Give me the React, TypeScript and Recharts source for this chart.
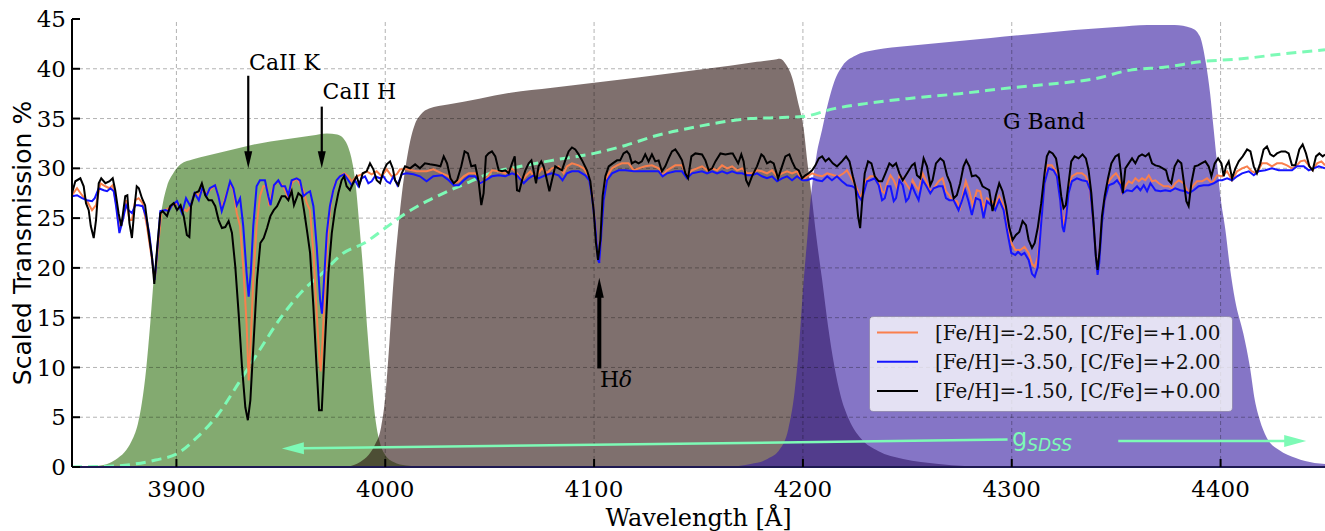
import { ComposedChart, Area, Line, XAxis, YAxis, ReferenceLine, ReferenceDot, Legend } from 'recharts'

type Pt = [number, number]

const X_TICKS = [3900, 4000, 4100, 4200, 4300, 4400]
const Y_TICKS = [0, 5, 10, 15, 20, 25, 30, 35, 40, 45]

const SERIF = '"DejaVu Serif", serif'
const SANS = '"DejaVu Sans", sans-serif'
const MINT = '#7dfab6'

// filter transmission curves
const FILTER_GREEN: Pt[] = [
  [3855, 0], [3862, 0.1], [3868, 0.4], [3872, 0.9], [3876, 1.7], [3879, 2.8], [3881.5, 4.3], [3883.5, 6.5],
  [3885.5, 9.8], [3887.5, 14.5], [3889.5, 19.8], [3891.5, 23.8], [3893.5, 26.5], [3895.5, 28.2], [3898.5, 29.5],
  [3902, 30.4], [3908, 30.9], [3915, 31.3], [3925, 31.8], [3935, 32.3], [3945, 32.7], [3955, 33.0],
  [3965, 33.3], [3972, 33.5], [3977, 33.4], [3980, 33.0], [3982.5, 32.0], [3984.5, 30.3], [3986, 28],
  [3987.5, 24.5], [3989.5, 19.5], [3991.5, 13.5], [3993.5, 8.5], [3995.5, 4.5], [3997.5, 2.4],
  [4000, 1.2], [4004, 0.5], [4010, 0.15], [4020, 0],
]

const FILTER_BROWN: Pt[] = [
  [3982, 0], [3988, 0.5], [3992, 1.2], [3995, 2.2], [3998, 4], [4000, 7], [4002, 12.5], [4004, 18.8],
  [4006, 23.5], [4008, 27.5], [4010, 30.5], [4012, 32.8], [4014, 34.3], [4017, 35.4], [4021, 36.0],
  [4030, 36.4], [4045, 37.0], [4060, 37.6], [4080, 38.1], [4100, 38.6], [4120, 39.1], [4150, 39.9],
  [4165, 40.3], [4178, 40.7], [4186, 40.9], [4189, 41.0], [4192, 40.4], [4195, 39], [4197.5, 36.8],
  [4200.4, 33.9], [4202.2, 30.5], [4204, 27.5], [4206.5, 23], [4209.2, 18.8], [4212, 14.2],
  [4215, 10.2], [4218, 7.2], [4222, 4.8], [4228, 2.8], [4236, 1.6], [4248, 0.8], [4265, 0.3], [4290, 0],
]

const FILTER_PURPLE: Pt[] = [
  [4165, 0], [4175, 0.3], [4183, 0.8], [4189, 1.8], [4193, 3.8], [4196, 7.5], [4198.3, 12.5],
  [4200.4, 18.8], [4202.2, 23.2], [4204, 27.5], [4206.5, 31.3], [4209.2, 33.9], [4212, 36.5],
  [4215, 38.7], [4219, 40.3], [4225, 41.3], [4235, 41.9], [4250, 42.3], [4270, 42.7], [4290, 43.1],
  [4310, 43.5], [4330, 43.9], [4350, 44.2], [4365, 44.4], [4378, 44.4], [4386, 44.1], [4390, 43.3],
  [4393, 40.5], [4395, 37.5], [4396.7, 33.9], [4398.3, 30.5], [4399.9, 27.2], [4402.3, 23.8],
  [4404.5, 20], [4406.9, 16.8], [4410.9, 13.4], [4414, 10.1], [4416.4, 6.7], [4418.8, 4.7],
  [4422, 3.0], [4428, 1.7], [4436, 0.9], [4445, 0.4], [4450, 0.3],
]

// g_SDSS response (dashed)
const G_SDSS: Pt[] = [
  [3850, 0], [3870, 0.1], [3880, 0.3], [3890, 0.7], [3900, 1.3], [3910, 3.0], [3920, 5.3], [3930, 8.5],
  [3940, 11.8], [3950, 15.0], [3960, 17.6], [3970, 19.5], [3980, 21.5], [3990, 22.5], [4000, 24.0],
  [4010, 25.5], [4020, 26.7], [4030, 27.7], [4040, 28.6], [4050, 29.5], [4065, 30.2], [4080, 30.8],
  [4100, 31.5], [4115, 32.3], [4130, 33.3], [4145, 34.0], [4160, 34.6], [4175, 35.0], [4190, 35.1],
  [4200, 35.2], [4215, 36.0], [4230, 36.5], [4250, 37.0], [4275, 37.5], [4300, 38.1], [4325, 38.6],
  [4340, 39.0], [4355, 39.8], [4375, 40.2], [4390, 40.7], [4410, 41.0], [4430, 41.5], [4450, 41.9],
]

// [Fe/H]=-2.50, [C/Fe]=+1.00
const SPEC_ORANGE: Pt[] = [
  [3850, 27.3], [3852.4, 28.0], [3854.8, 27.3], [3857.2, 26.7], [3859.6, 25.8], [3861.5, 26.3],
  [3863.6, 28.5], [3866, 28.2], [3867.9, 28.0], [3869.5, 28.3], [3871.1, 26.5], [3872.7, 23.8],
  [3874.3, 24.8], [3875.9, 26.8], [3877.5, 24.8], [3878.7, 24.8], [3880.3, 26.8], [3881.9, 27.0],
  [3883.8, 26.5], [3885.9, 24.2], [3888.3, 20.8], [3889.6, 18.8], [3891.2, 22.1], [3892.8, 25.7],
  [3894.7, 25.8], [3897.9, 26.2], [3900.3, 26.5], [3902.7, 26.0], [3905, 25.7], [3906.7, 26.2],
  [3908.7, 27.5], [3910.7, 27.3], [3912.2, 27.8], [3914.5, 27.5], [3918.5, 28.3], [3921.7, 26.0],
  [3924, 27.5], [3925.7, 28.5], [3927.3, 27.8], [3928.9, 25.5], [3930.5, 24.2], [3932, 20.1],
  [3933.6, 14.4], [3934.6, 8.7], [3935.6, 12.7], [3936.8, 18.8], [3938.4, 24.2], [3940, 27.2],
  [3941.6, 28.2], [3943.2, 28.2], [3944.5, 26.2], [3946.4, 28.2], [3948.8, 28.7], [3951.2, 28.2],
  [3953.6, 27.0], [3955.2, 28.5], [3957.6, 29.0], [3960.8, 27.8], [3962.4, 26.5], [3964, 25.8],
  [3965.6, 21.5], [3967.2, 15.4], [3968.5, 10.7], [3969.1, 9.6], [3970, 12.7], [3971.2, 18.8],
  [3972.8, 24.2], [3974.4, 27.2], [3976, 28.5], [3978.3, 29.2], [3980.3, 29.5], [3982.3, 29.2],
  [3983.9, 28.7], [3986.3, 29.2], [3988.7, 29.4], [3991.1, 29.7], [3993.5, 29.4], [3995.9, 29.7],
  [3998.3, 29.2], [4000.7, 29.9], [4003.1, 29.2], [4005.5, 29.4], [4007.1, 29.9], [4010.3, 29.9],
  [4015, 29.7], [4019.8, 29.7], [4023, 29.9], [4027.2, 29.5], [4030.4, 29.2], [4032.8, 28.5],
  [4035.2, 28.7], [4037.6, 29.2], [4040, 29.5], [4043.1, 29.5], [4045.5, 28.5], [4047.9, 28.8],
  [4051.1, 29.8], [4054.3, 29.7], [4057.5, 29.5], [4060.7, 30.0], [4063.1, 29.5], [4065.5, 28.8],
  [4067.1, 29.2], [4069.5, 29.7], [4071, 29.2], [4072.6, 29.3], [4075, 30.0], [4077.4, 29.5],
  [4079.8, 30.0], [4083, 30.2], [4085.4, 29.5], [4087, 30.2], [4089.4, 30.5], [4092.6, 30.3],
  [4095, 30.0], [4097.4, 29.2], [4099, 27.5], [4100.6, 24.1], [4101.9, 21.0], [4102.5, 20.6],
  [4103.5, 23.8], [4104.6, 27.2], [4106.2, 29.2], [4108.6, 30.0], [4111, 30.3], [4113.3, 30.5],
  [4116.5, 30.5], [4119, 29.8], [4121.3, 30.0], [4124.5, 30.2], [4127.7, 30.3], [4130.9, 30.0],
  [4132.8, 29.3], [4134.9, 29.8], [4138.9, 30.3], [4142.1, 30.3], [4144.5, 29.2], [4146.9, 29.8],
  [4151.7, 30.2], [4154.1, 29.8], [4156.5, 30.0], [4158.9, 29.8], [4161.3, 30.3], [4163.7, 30.0],
  [4166.1, 30.2], [4168.5, 29.8], [4170.9, 30.0], [4173.2, 29.5], [4175.6, 29.5], [4178, 29.8],
  [4180.4, 29.7], [4182.8, 29.5], [4185.2, 29.8], [4187.6, 29.2], [4190, 29.5], [4192.4, 29.7],
  [4194.8, 29.5], [4197.2, 29.7], [4199.6, 28.8], [4202, 29.2], [4204.4, 29.5], [4206.8, 29.3],
  [4209.2, 29.2], [4211.6, 29.5], [4214.8, 29.3], [4217.1, 29.2], [4219.5, 29.5], [4221.1, 29.8],
  [4222.7, 29.2], [4225.1, 28.3], [4226.4, 27.7], [4227.5, 27.0], [4228.6, 27.7], [4230.2, 28.8],
  [4232.3, 29.2], [4234.4, 29.2], [4236.3, 28.7], [4237.9, 27.7], [4239.2, 27.5], [4240.3, 28.5],
  [4241.9, 29.3], [4243.5, 28.8], [4245.1, 28.0], [4246.2, 29.3], [4247.8, 29.0], [4249.9, 28.3],
  [4251.5, 27.8], [4252.5, 28.8], [4253.8, 28.3], [4255.4, 27.8], [4257.3, 29.5], [4258.9, 28.8],
  [4261, 27.7], [4262.6, 28.0], [4265, 28.7], [4266.9, 29.0], [4268.5, 27.7], [4270.1, 27.3],
  [4271.4, 26.8], [4273.7, 26.7], [4275.3, 26.0], [4276.9, 27.7], [4278, 28.7], [4279.7, 27.7],
  [4281.3, 26.3], [4283.3, 27.8], [4284.9, 27.7], [4286.5, 26.0], [4288.1, 27.0], [4290.5, 26.7],
  [4292.1, 26.3], [4294, 27.2], [4296.1, 26.2], [4297.7, 24.1], [4299.8, 22.5], [4301.7, 21.8],
  [4304.1, 21.8], [4306.1, 22.1], [4308.1, 21.5], [4309.7, 20.4], [4311, 20.1], [4312.5, 21.1],
  [4314.1, 24.8], [4315.7, 28.5], [4317.3, 30.3], [4319.2, 30.3], [4321.2, 29.7], [4322.8, 27.8],
  [4324, 25.5], [4325, 24.3], [4326.1, 25.8], [4327.2, 28.2], [4328.8, 29.2], [4331.2, 29.5],
  [4333.6, 29.5], [4335.5, 29.2], [4337.1, 28.3], [4338.4, 25.8], [4339.7, 22.8], [4341, 19.8],
  [4341.9, 21.1], [4343.2, 24.8], [4344.5, 26.7], [4346.4, 28.7], [4348.3, 29.2], [4349.9, 29.5],
  [4351.5, 29.0], [4352.8, 27.6], [4354.4, 28.2], [4356, 28.7], [4357.6, 28.5], [4359.2, 29.0],
  [4360.8, 28.7], [4362.4, 29.0], [4364, 28.8], [4365.6, 29.3], [4367.2, 28.7], [4368.8, 28.8],
  [4370.4, 28.5], [4372.8, 28.2], [4375.1, 28.2], [4376.7, 28.0], [4378.3, 28.5], [4380, 28.8],
  [4382.3, 28.5], [4384.7, 27.5], [4386.6, 28.2], [4388.7, 28.7], [4391.1, 28.7], [4393.5, 29.0],
  [4395.9, 28.5], [4398.3, 29.3], [4400.7, 29.2], [4403.1, 29.7], [4405.5, 28.8], [4407.9, 29.7],
  [4410.3, 30.0], [4412.7, 30.2], [4415, 29.7], [4417.4, 29.5], [4419.8, 30.5], [4422.2, 30.5],
  [4424.6, 30.2], [4427, 30.5], [4429.4, 30.5], [4431.8, 30.3], [4434.2, 30.0], [4436.1, 30.2],
  [4438.2, 30.7], [4440.3, 30.8], [4442.2, 30.3], [4444.1, 29.8], [4446.2, 30.5], [4448.3, 30.7],
  [4450, 30.3],
]

// [Fe/H]=-3.50, [C/Fe]=+2.00
const SPEC_BLUE: Pt[] = [
  [3850, 27.2], [3852.4, 27.3], [3854.8, 27.0], [3857.2, 26.8], [3859.6, 26.7], [3860.9, 27.0],
  [3862.8, 28.0], [3865.2, 27.8], [3866.8, 27.7], [3868.4, 28.0], [3870, 27.7], [3871.1, 26.2],
  [3872.7, 23.5], [3874.3, 24.8], [3875.9, 26.3], [3877.1, 25.8], [3878.7, 25.5], [3880.3, 26.3],
  [3881.9, 26.3], [3883.8, 26.2], [3885.4, 25.2], [3887, 23.5], [3888.6, 20.5], [3889.6, 18.8],
  [3890.7, 21.5], [3892.3, 25.7], [3894.7, 25.8], [3896.3, 25.7], [3897.9, 26.3], [3900.3, 26.7],
  [3902.7, 25.5], [3904.6, 27.0], [3906.7, 26.2], [3908.7, 27.5], [3910.7, 26.8], [3912.5, 28.1],
  [3914.3, 27.2], [3916, 28.0], [3918.5, 28.3], [3920.1, 27.2], [3921.7, 25.7], [3923.3, 26.8],
  [3925.7, 28.7], [3927.3, 28.0], [3928.9, 26.3], [3930.5, 27.0], [3932, 24.2], [3933.6, 19.5],
  [3934.6, 17.1], [3935.6, 19.5], [3936.8, 24.2], [3938.4, 28.2], [3940, 28.8], [3942.4, 28.8],
  [3944, 27.2], [3945.1, 26.3], [3946.7, 28.3], [3948.8, 28.8], [3950.4, 28.2], [3952, 28.2],
  [3953.6, 27.3], [3955.2, 28.8], [3957.6, 29.0], [3959.2, 28.8], [3960.8, 27.2], [3962.4, 27.5],
  [3964, 27.7], [3965.6, 26.2], [3967.2, 22.1], [3968.8, 16.8], [3969.7, 15.4], [3970.7, 18.8],
  [3972, 23.5], [3973.5, 26.2], [3975.1, 27.8], [3976.7, 28.8], [3978.3, 29.2], [3980.3, 29.4],
  [3982.3, 28.8], [3983.9, 28.3], [3985.5, 28.8], [3987.1, 28.2], [3988.7, 29.0], [3990.3, 29.2],
  [3991.9, 28.5], [3993.5, 28.7], [3995.1, 29.2], [3997.5, 29.0], [3999.1, 29.2], [4000.7, 28.7],
  [4002.3, 28.5], [4003.9, 29.2], [4005.8, 28.3], [4007.9, 29.4], [4010.3, 29.5], [4013.5, 29.4],
  [4016.6, 29.2], [4019.8, 28.7], [4023, 29.2], [4027.2, 29.3], [4030.4, 28.8], [4032.8, 28.3],
  [4035.2, 28.3], [4037.6, 28.8], [4040, 29.2], [4043.1, 29.2], [4045.5, 28.5], [4047.9, 28.8],
  [4051.1, 29.2], [4054.3, 29.3], [4057.5, 29.2], [4060.7, 29.5], [4063.1, 29.3], [4066.3, 28.5],
  [4068.7, 29.0], [4071, 29.3], [4073.4, 29.0], [4076.6, 29.3], [4079.8, 29.5], [4083, 29.3],
  [4084.9, 28.8], [4087, 29.5], [4089.4, 29.7], [4092.6, 29.7], [4095.8, 29.3], [4097.7, 28.8],
  [4099, 27.2], [4100.6, 24.1], [4101.9, 20.8], [4102.5, 20.5], [4103.5, 23.5], [4104.6, 26.8],
  [4106.2, 28.8], [4108.6, 29.5], [4111.8, 29.8], [4115, 29.8], [4119, 29.7], [4121.3, 29.7],
  [4124.5, 29.7], [4127.7, 29.7], [4130.9, 29.7], [4132.8, 29.2], [4134.9, 29.5], [4138.9, 29.7],
  [4142.1, 29.7], [4144.5, 29.0], [4146.9, 29.5], [4151.7, 29.7], [4154.1, 29.5], [4156.5, 29.7],
  [4158.9, 29.5], [4161.3, 29.7], [4163.7, 29.5], [4166.1, 29.7], [4168.5, 29.5], [4170.9, 29.5],
  [4173.2, 29.3], [4175.6, 29.3], [4178, 29.5], [4180.4, 29.2], [4182.8, 29.0], [4185.2, 29.2],
  [4187.6, 28.7], [4190, 29.0], [4192.4, 29.2], [4194.8, 28.8], [4197.2, 29.2], [4199.6, 28.8],
  [4202, 28.8], [4204.4, 29.0], [4206.8, 28.8], [4209.2, 28.7], [4211.6, 29.2], [4213.9, 28.8],
  [4216.3, 29.2], [4218.7, 28.7], [4221.1, 28.3], [4223.5, 28.2], [4225.1, 28.0], [4226.7, 27.2],
  [4228, 26.8], [4229.1, 27.5], [4230.7, 28.7], [4232.3, 28.8], [4234.4, 29.0], [4236.3, 28.3],
  [4237.9, 26.8], [4239.2, 27.0], [4240.6, 28.2], [4241.9, 28.2], [4243.5, 26.7], [4244.6, 27.0],
  [4246.2, 28.8], [4247.8, 28.3], [4249.4, 26.7], [4250.6, 27.0], [4252.2, 28.3], [4253.8, 27.5],
  [4255.4, 26.8], [4257.3, 28.8], [4258.9, 28.3], [4261, 27.5], [4262.6, 28.0], [4265, 28.2],
  [4266.9, 28.2], [4268.5, 27.0], [4270.1, 26.8], [4272.2, 26.8], [4274.5, 25.8], [4276.1, 26.7],
  [4277.7, 27.8], [4279.3, 26.7], [4280.9, 25.3], [4282.8, 27.0], [4284.9, 26.8], [4286.5, 25.0],
  [4288.1, 26.7], [4290.5, 26.2], [4292.1, 25.8], [4294, 26.8], [4296.1, 25.8], [4297.7, 23.8],
  [4299.8, 21.5], [4301.7, 21.3], [4303, 21.6], [4304.6, 21.3], [4306.1, 21.5], [4308.1, 20.8],
  [4309.7, 19.4], [4311, 19.1], [4312.5, 20.1], [4314.1, 24.5], [4315.7, 28.5], [4317.6, 30.0],
  [4320, 29.8], [4321.6, 29.2], [4323.2, 26.8], [4324.3, 24.1], [4325, 23.6], [4326.1, 25.2],
  [4327.2, 27.5], [4328.8, 28.7], [4331.2, 29.0], [4333.6, 28.8], [4336, 28.7], [4337.6, 27.8],
  [4339.2, 24.1], [4340.3, 21.1], [4341.1, 19.3], [4341.9, 20.5], [4343.2, 24.5], [4344.5, 26.8],
  [4346.4, 28.3], [4348.8, 28.5], [4350.4, 28.8], [4352, 28.3], [4353.2, 27.5], [4355.2, 27.8],
  [4357.6, 27.7], [4360, 28.2], [4361.6, 27.8], [4363.2, 28.3], [4364.8, 27.7], [4366.4, 28.5],
  [4368.8, 27.8], [4371.2, 27.7], [4373.5, 27.8], [4375.9, 27.7], [4378.3, 28.0], [4380.7, 27.8],
  [4383.1, 27.7], [4384.7, 27.5], [4387.1, 27.8], [4389.5, 28.2], [4391.9, 28.3], [4394.3, 28.3],
  [4396.7, 28.5], [4399.1, 28.8], [4400.7, 28.8], [4403.1, 29.0], [4405.5, 28.8], [4407.9, 29.2],
  [4410.3, 29.5], [4413.5, 29.7], [4415.9, 29.3], [4418.2, 29.7], [4421.4, 29.8], [4424.6, 30.0],
  [4427.8, 29.8], [4431, 29.8], [4434.2, 29.8], [4436.6, 30.2], [4439.8, 30.2], [4442.2, 29.8],
  [4444.6, 30.0], [4447, 30.2], [4450, 30.0],
]

// [Fe/H]=-1.50, [C/Fe]=+0.00
const SPEC_BLACK: Pt[] = [
  [3850, 27.5], [3851.6, 28.7], [3854, 29.0], [3855.6, 28.2], [3856.7, 26.5], [3858, 25.8],
  [3859, 24.2], [3860.4, 23.0], [3861.5, 24.8], [3862.8, 28.5], [3864, 29.0], [3866, 28.5],
  [3868, 28.7], [3869.5, 29.0], [3870.7, 27.8], [3872.3, 25.5], [3873.6, 24.2], [3875.5, 27.2],
  [3876.5, 27.3], [3877.5, 24.5], [3878.7, 23.0], [3880, 26.2], [3881, 28.2], [3882, 28.0],
  [3883.5, 27.0], [3885, 26.3], [3886.7, 23.5], [3888.3, 21.1], [3889.4, 18.4], [3890.7, 21.8],
  [3892.3, 25.5], [3893.4, 25.7], [3895.5, 25.2], [3897, 26.2], [3898.7, 26.5], [3900.3, 25.8],
  [3902, 26.3], [3903.5, 25.2], [3905, 23.3], [3906.2, 23.1], [3907, 26.2], [3908.7, 27.5],
  [3910.7, 27.7], [3912.2, 28.5], [3913.8, 27.3], [3915.4, 26.8], [3917, 26.8], [3918.6, 26.2],
  [3920.2, 24.8], [3921.8, 24.0], [3923.4, 24.1], [3925, 24.7], [3926.6, 23.5], [3928.2, 20.1],
  [3929.8, 15.4], [3931.4, 10.1], [3933, 6.0], [3934.2, 4.7], [3935.4, 6.7], [3937, 12.7],
  [3938.6, 18.8], [3940.2, 22.5], [3941.8, 23.0], [3943.4, 24.0], [3945, 25.2], [3946.6, 25.8],
  [3948.2, 26.2], [3950.4, 27.2], [3952, 27.2], [3953.6, 26.8], [3955.2, 27.7], [3956.3, 26.3],
  [3958.4, 27.5], [3960, 27.2], [3961.1, 25.8], [3962.7, 23.5], [3964, 21.5], [3965.6, 16.1],
  [3967.2, 9.7], [3968.3, 5.7], [3969.6, 5.7], [3971.2, 12.7], [3972.8, 19.5], [3974.4, 23.5],
  [3975.9, 25.8], [3977.5, 27.5], [3979.1, 28.8], [3980.3, 29.2], [3981.5, 28.2], [3983.1, 27.8],
  [3985, 28.7], [3986.3, 29.2], [3987.6, 28.3], [3989.2, 29.5], [3991.1, 29.7], [3992.7, 30.5],
  [3994.3, 29.9], [3995.9, 28.8], [3997.5, 28.5], [3999.1, 29.7], [4000.7, 30.4], [4002.3, 30.7],
  [4003.6, 30.0], [4004.7, 28.8], [4006.3, 28.3], [4007.9, 29.5], [4009.5, 30.2], [4011.9, 30.0],
  [4014.3, 30.4], [4016.6, 30.0], [4019, 30.5], [4021.4, 30.4], [4024.3, 30.3], [4026.4, 30.2],
  [4028, 31.2], [4029.6, 30.5], [4031.2, 29.0], [4032.8, 28.5], [4034.4, 28.8], [4036.4, 30.2],
  [4038, 31.7], [4039.6, 31.5], [4041.2, 30.2], [4043.1, 30.3], [4044.7, 28.7], [4046, 26.3],
  [4047.1, 27.5], [4048.2, 31.2], [4049.5, 31.5], [4051.1, 31.7], [4052.7, 31.2], [4054.3, 29.8],
  [4055.9, 29.7], [4057.5, 29.8], [4059.1, 29.5], [4060.7, 30.5], [4062, 31.2], [4063.1, 27.8],
  [4064.2, 27.7], [4065.5, 28.8], [4067.1, 29.8], [4068.7, 30.5], [4070, 30.8], [4071, 29.8],
  [4072.2, 28.5], [4073.4, 30.2], [4074.7, 30.7], [4075.8, 30.2], [4077, 29.2], [4078.6, 27.7],
  [4079.8, 28.8], [4081.4, 30.2], [4083, 30.0], [4084.6, 29.8], [4086.2, 30.8], [4087.8, 31.7],
  [4089.4, 32.1], [4091, 31.9], [4092.6, 31.4], [4094.5, 30.7], [4096.6, 29.8], [4098.2, 28.7],
  [4099.8, 25.8], [4100.9, 22.5], [4101.9, 20.8], [4103, 22.8], [4104.1, 27.2], [4105.4, 29.2],
  [4107, 30.2], [4108.9, 30.5], [4111, 30.8], [4112.5, 30.8], [4114.1, 31.5], [4115.7, 31.7],
  [4116.9, 31.4], [4118.1, 30.5], [4119.7, 30.7], [4121.3, 30.5], [4122.9, 30.7], [4124.5, 31.4],
  [4126.1, 30.7], [4127.7, 31.4], [4129.3, 30.7], [4130.9, 30.8], [4132.5, 29.7], [4134.1, 30.2],
  [4135.7, 31.0], [4137.3, 31.7], [4138.9, 31.9], [4140.5, 31.4], [4142.1, 30.8], [4143.7, 29.5],
  [4145, 29.0], [4146.6, 31.2], [4148.5, 31.5], [4151.7, 31.4], [4153.3, 30.8], [4154.9, 29.8],
  [4156.5, 30.0], [4158.1, 30.7], [4160.5, 31.5], [4162.9, 31.4], [4165.3, 31.5], [4166.4, 31.5],
  [4167.7, 31.0], [4169, 30.5], [4170.5, 31.4], [4171.6, 30.7], [4172.8, 28.8], [4174, 28.3],
  [4175.6, 29.2], [4178, 30.2], [4180.1, 31.4], [4181.2, 31.2], [4182.8, 30.5], [4184.4, 30.7],
  [4186, 30.5], [4188.1, 29.0], [4190, 30.2], [4191.6, 31.2], [4193.5, 31.4], [4194.8, 30.7],
  [4196.4, 30.0], [4198, 29.8], [4199.6, 29.0], [4201.2, 29.3], [4202.8, 29.5], [4204.4, 29.8],
  [4206, 30.3], [4207.6, 31.0], [4209.2, 31.2], [4210.8, 30.7], [4212.4, 31.0], [4214.3, 30.5],
  [4216.3, 30.2], [4218.7, 30.7], [4220.7, 31.2], [4222.3, 30.7], [4223.9, 29.2], [4225.1, 28.2],
  [4226.4, 25.2], [4227.4, 24.0], [4228.3, 26.5], [4229.6, 29.5], [4231.2, 30.7], [4232.8, 30.5],
  [4234.4, 29.2], [4236.3, 28.7], [4237.9, 28.7], [4239.5, 29.5], [4241.4, 30.5], [4243, 30.2],
  [4244.6, 30.5], [4246.2, 29.5], [4247.8, 28.8], [4249.9, 29.5], [4252.2, 30.3], [4253.5, 30.5],
  [4254.6, 29.3], [4256.2, 29.0], [4257.8, 31.0], [4259.4, 30.2], [4261, 28.3], [4262.1, 28.8],
  [4263.7, 30.5], [4265.8, 31.0], [4267.4, 30.7], [4269, 29.3], [4270.6, 28.5], [4272.2, 27.0],
  [4273.7, 27.3], [4275.3, 28.5], [4276.9, 30.2], [4278.2, 30.8], [4279.7, 30.2], [4280.9, 29.2],
  [4282.8, 29.3], [4284.4, 29.0], [4286, 28.2], [4287.6, 28.0], [4289.2, 27.8], [4290.8, 25.7],
  [4292.4, 27.3], [4294, 28.5], [4295.6, 27.7], [4297.2, 26.2], [4298.8, 24.1], [4300.4, 22.8],
  [4302, 23.3], [4303.6, 23.6], [4305.2, 24.7], [4306.8, 24.3], [4308.1, 22.8], [4309.7, 22.0],
  [4311, 22.5], [4312.5, 24.1], [4314.1, 26.5], [4315.7, 29.5], [4316.8, 31.2], [4318, 31.7],
  [4319.6, 31.5], [4321.2, 31.0], [4322.4, 29.5], [4323.7, 27.2], [4324.8, 26.0], [4325.9, 26.3],
  [4327.2, 28.5], [4328.5, 30.7], [4330.1, 31.2], [4332, 31.0], [4333.9, 31.4], [4335.5, 31.0],
  [4336.8, 29.8], [4338.1, 27.5], [4339.2, 24.5], [4340.3, 21.1], [4341.1, 19.8], [4342.1, 21.8],
  [4343.2, 25.2], [4344.5, 27.2], [4346.1, 29.0], [4347.7, 30.5], [4349.6, 31.2], [4351.2, 31.4],
  [4352.3, 29.5], [4353.2, 27.5], [4354.4, 30.0], [4356, 30.5], [4357.6, 31.0], [4359.2, 30.5],
  [4360.8, 31.2], [4362.4, 31.4], [4364, 31.2], [4365.6, 31.5], [4367.2, 30.5], [4368.8, 30.3],
  [4370.7, 30.2], [4372.3, 30.0], [4373.9, 29.8], [4375.1, 28.8], [4376.4, 28.5], [4378, 30.2],
  [4379.6, 30.8], [4381.2, 30.5], [4382.3, 28.8], [4383.6, 26.7], [4384.7, 26.2], [4386, 28.5],
  [4387.6, 30.2], [4389.2, 30.3], [4390.8, 30.5], [4392.7, 30.7], [4394.3, 30.2], [4395.6, 29.2],
  [4397.2, 30.5], [4398.8, 31.0], [4400.4, 30.5], [4401.5, 29.2], [4402.6, 30.2], [4403.9, 30.7],
  [4405.5, 29.0], [4407.1, 30.0], [4408.7, 30.7], [4410.6, 31.2], [4412.7, 31.9], [4414.3, 31.7],
  [4415.9, 30.2], [4417.4, 29.5], [4419, 30.5], [4420.6, 31.9], [4422.2, 32.2], [4423.8, 31.4],
  [4425.4, 31.2], [4427, 31.5], [4429.1, 31.7], [4431, 31.7], [4432.6, 31.5], [4434.2, 30.3],
  [4435.8, 30.3], [4437.7, 31.9], [4439.3, 32.4], [4440.9, 31.5], [4442.5, 30.2], [4444.1, 29.8],
  [4445.7, 31.2], [4447.3, 31.5], [4448.9, 31.2], [4450, 31.4],
]

const SERIES = [
  { name: '[Fe/H]=-2.50, [C/Fe]=+1.00', color: '#fa7f4c', pts: SPEC_ORANGE },
  { name: '[Fe/H]=-3.50, [C/Fe]=+2.00', color: '#1414ff', pts: SPEC_BLUE },
  { name: '[Fe/H]=-1.50, [C/Fe]=+0.00', color: '#000000', pts: SPEC_BLACK },
]

const FILTERS = [
  { key: 'g', fill: '#307111', pts: FILTER_GREEN },
  { key: 'b', fill: '#2a110d', pts: FILTER_BROWN },
  { key: 'p', fill: '#3419a0', pts: FILTER_PURPLE },
]

// annotation arrows: [from, to]
const LINE_ARROWS: { from: Pt; to: Pt }[] = [
  { from: [3934.4, 39.3], to: [3934.4, 30.0] },
  { from: [3969.6, 36.2], to: [3969.6, 30.0] },
]
const HDELTA_ARROW = { from: [4102.5, 9.9] as Pt, to: [4102.5, 19.0] as Pt }
const G_ARROWS: { from: Pt; to: Pt }[] = [
  { from: [4298, 2.75], to: [3950.5, 1.85] },
  { from: [4351, 2.6], to: [4441, 2.6] },
]

const LABELS: { text: string; at: Pt }[] = [
  { text: 'CaII K', at: [3934.8, 39.9] },
  { text: 'CaII H', at: [3970.0, 37.0] },
  { text: 'G Band', at: [4295.8, 34.0] },
]

const toRows = (pts: Pt[]) => pts.map(([x, y]) => ({ x, y }))

const arrowShape = (color: string, width: number, headLen: number, headHalf: number) => (p: any) => {
  const { x1, y1, x2, y2 } = p
  const dx = x2 - x1
  const dy = y2 - y1
  const len = Math.hypot(dx, dy) || 1
  const ux = dx / len
  const uy = dy / len
  const bx = x2 - ux * headLen
  const by = y2 - uy * headLen
  const px = -uy * headHalf
  const py = ux * headHalf
  return (
    <g>
      <line x1={x1} y1={y1} x2={bx + ux} y2={by + uy} stroke={color} strokeWidth={width} />
      <polygon points={`${x2},${y2} ${bx + px},${by + py} ${bx - px},${by - py}`} fill={color} />
    </g>
  )
}

// legend drawn as svg so the serif font is the same as the other texts
const LegendBox = () => (
  <svg width={364} height={96} style={{ display: 'block' }}>
    <rect x={0.5} y={0.5} width={363} height={95} rx={4} fill="#fff" fillOpacity={0.78} stroke="#000" strokeOpacity={0.18} />
    {SERIES.map((s, i) => (
      <g key={s.name}>
        <line x1={8} x2={49} y1={16.5 + i * 29.3} y2={16.5 + i * 29.3} stroke={s.color} strokeWidth={2} />
        <text x={66} y={16.5 + i * 29.3} dominantBaseline="central" fontFamily={SERIF} fontSize={20} fill="#111">
          {s.name}
        </text>
      </g>
    ))}
  </svg>
)

const spine = { stroke: '#000', strokeWidth: 2 }
const tickFont = { fill: '#000', fontSize: 23, fontFamily: SERIF }

export default function App() {
  return (
    <div style={{ position: 'absolute', left: 0, top: 0, width: 1325, height: 531, overflow: 'hidden', background: '#fff' }}>
      <ComposedChart width={1327} height={531} margin={{ top: 19, right: 2, bottom: 0, left: 0 }}>
        <XAxis
          type="number"
          dataKey="x"
          domain={[3850, 4450]}
          ticks={X_TICKS}
          allowDataOverflow
          height={64}
          tickSize={-8}
          tickMargin={22}
          axisLine={{ stroke: '#1e1a52', strokeWidth: 2 }}
          tickLine={spine}
          tick={tickFont}
          label={{ value: 'Wavelength [Å]', position: 'insideBottom', offset: 5, fill: '#000', fontSize: 24, fontFamily: SERIF }}
        />
        <XAxis
          xAxisId="top"
          orientation="top"
          type="number"
          dataKey="x"
          domain={[3850, 4450]}
          ticks={X_TICKS}
          allowDataOverflow
          height={0}
          tickSize={-8}
          tickFormatter={() => ''}
          axisLine={spine}
          tickLine={spine}
        />
        <YAxis
          type="number"
          domain={[0, 45]}
          ticks={Y_TICKS}
          allowDataOverflow
          width={72}
          tickSize={-8}
          tickMargin={14}
          axisLine={spine}
          tickLine={spine}
          tick={tickFont}
          label={{
            content: ({ viewBox }: any) => {
              const cx = (viewBox?.x ?? 0) + 22
              const cy = (viewBox?.y ?? 19) + (viewBox?.height ?? 448) / 2
              return (
                <text
                  x={cx}
                  y={cy}
                  transform={`rotate(-90 ${cx} ${cy})`}
                  textAnchor="middle"
                  dominantBaseline="central"
                  fontFamily={SANS}
                  fontSize={25}
                  fill="#000"
                >
                  Scaled Transmission %
                </text>
              )
            },
          }}
        />
        <YAxis
          yAxisId="right"
          orientation="right"
          type="number"
          domain={[0, 45]}
          ticks={Y_TICKS}
          allowDataOverflow
          width={0}
          tickSize={-8}
          tickFormatter={() => ''}
          axisLine={spine}
          tickLine={spine}
        />

        {FILTERS.map((f) => (
          <Area
            key={f.key}
            data={toRows(f.pts)}
            dataKey="y"
            type="monotone"
            stroke="none"
            fill={f.fill}
            fillOpacity={0.6}
            isAnimationActive={false}
            legendType="none"
          />
        ))}

        {X_TICKS.map((t) => (
          <ReferenceLine key={'gx' + t} x={t} stroke="#000" strokeOpacity={0.3} strokeWidth={1} strokeDasharray="4 3" />
        ))}
        {Y_TICKS.slice(1, -1).map((t) => (
          <ReferenceLine key={'gy' + t} y={t} stroke="#000" strokeOpacity={0.3} strokeWidth={1} strokeDasharray="4 3" />
        ))}

        <Line
          data={toRows(G_SDSS)}
          dataKey="y"
          type="monotone"
          stroke={MINT}
          strokeWidth={3}
          strokeDasharray="10 6"
          dot={false}
          isAnimationActive={false}
          legendType="none"
        />

        {SERIES.map((s) => (
          <Line
            key={s.name}
            name={s.name}
            data={toRows(s.pts)}
            dataKey="y"
            type="linear"
            stroke={s.color}
            strokeWidth={2}
            dot={false}
            isAnimationActive={false}
          />
        ))}

        {LINE_ARROWS.map((a, i) => (
          <ReferenceLine
            key={'la' + i}
            segment={[{ x: a.from[0], y: a.from[1] }, { x: a.to[0], y: a.to[1] }]}
            ifOverflow="visible"
            shape={arrowShape('#000', 2.2, 17, 4)}
          />
        ))}
        <ReferenceLine
          segment={[{ x: HDELTA_ARROW.from[0], y: HDELTA_ARROW.from[1] }, { x: HDELTA_ARROW.to[0], y: HDELTA_ARROW.to[1] }]}
          ifOverflow="visible"
          shape={arrowShape('#000', 4, 20, 4.5)}
        />
        {G_ARROWS.map((a, i) => (
          <ReferenceLine
            key={'ga' + i}
            segment={[{ x: a.from[0], y: a.from[1] }, { x: a.to[0], y: a.to[1] }]}
            ifOverflow="visible"
            shape={arrowShape(MINT, 2.5, 22, 6)}
          />
        ))}

        {LABELS.map((l) => (
          <ReferenceDot
            key={l.text}
            x={l.at[0]}
            y={l.at[1]}
            r={0}
            ifOverflow="visible"
            shape={(p: any) => (
              <text x={p.cx} y={p.cy} fontFamily={SERIF} fontSize={22} fill="#000">
                {l.text}
              </text>
            )}
          />
        ))}
        <ReferenceDot
          x={4102.8}
          y={8.0}
          r={0}
          ifOverflow="visible"
          shape={(p: any) => (
            <text x={p.cx} y={p.cy} fontFamily={SERIF} fontSize={22} fill="#000">
              H<tspan fontStyle="italic">δ</tspan>
            </text>
          )}
        />
        <ReferenceDot
          x={4300.1}
          y={2.1}
          r={0}
          ifOverflow="visible"
          shape={(p: any) => (
            <text x={p.cx} y={p.cy} fontFamily={SANS} fontSize={24} fill={MINT}>
              g
              <tspan fontSize={17} fontStyle="italic" dy={5}>
                SDSS
              </tspan>
            </text>
          )}
        />

        <Legend
          layout="vertical"
          align="center"
          verticalAlign="middle"
          wrapperStyle={{ position: 'absolute', left: 869, top: 316, width: 364, height: 96 }}
          content={() => <LegendBox />}
        />
      </ComposedChart>
    </div>
  )
}
